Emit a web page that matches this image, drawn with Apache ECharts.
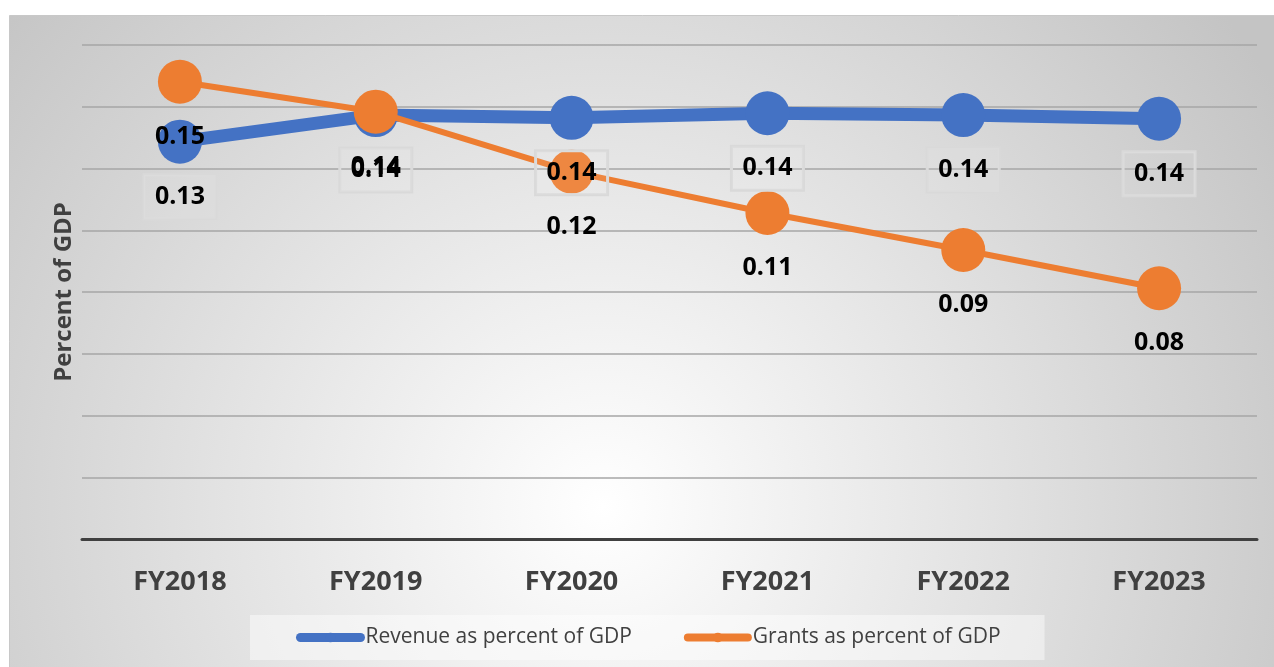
<!DOCTYPE html>
<html>
<head>
<meta charset="utf-8">
<script src="https://cdn.jsdelivr.net/npm/echarts@6/dist/echarts.min.js"></script>
<style>
  html, body { margin: 0; padding: 0; background: #ffffff; }
  #chart { width: 1274px; height: 667px; }
</style>
</head>
<body>
<div id="chart"></div>
<script>
// Fiscal years on the category axis
const categories = ['FY2018', 'FY2019', 'FY2020', 'FY2021', 'FY2022', 'FY2023'];
// Revenue as a share of GDP
const revenue = [0.1287, 0.1373, 0.1364, 0.1379, 0.1373, 0.1361];
// Grants as a share of GDP
const grants = [0.1481, 0.1384, 0.1190, 0.1056, 0.0936, 0.0812];
// Series names shown in the legend
const seriesNames = ['Revenue as percent of GDP', 'Grants as percent of GDP'];
const axisTitle = 'Percent of GDP';

const BLUE = '#4472C4';
const ORANGE = '#ED7D31';
const FONT = '"Open Sans", "Liberation Sans", sans-serif';
const MARKER = 44;

const chart = echarts.init(document.getElementById('chart'), null, { renderer: 'canvas' });

const labelBase = {
  show: true,
  position: 'bottom',
  distance: 11,
  formatter: p => p.value.toFixed(2),
  fontFamily: FONT,
  fontWeight: 'bold',
  fontSize: 25,
  lineHeight: 24,
  color: '#000000',
  opacity: 1,
  padding: [10, 11, 10, 11]
};

// Value labels sit on their own transparent layer so they stay above every line and marker
function labelLayer(name, data, extra, z) {
  return {
    name: name,
    type: 'scatter',
    data: data,
    symbol: 'circle',
    symbolSize: MARKER,
    silent: true,
    itemStyle: { color: 'rgba(0,0,0,0)', opacity: 1 },
    label: Object.assign({}, labelBase, extra),
    z: z
  };
}

chart.setOption({
  animation: false,
  graphic: [{
    type: 'rect',
    z: -10,
    silent: true,
    shape: { x: 9.5, y: 15.5, width: 1270, height: 660 },
    style: {
      fill: new echarts.graphic.RadialGradient(0.467, 0.744, 1.2, [
        { offset: 0, color: '#ffffff' },
        { offset: 1, color: '#c4c4c4' }
      ]),
      stroke: '#c8c8c8',
      lineWidth: 1
    }
  }],
  grid: { left: 82, right: 17, top: 45, bottom: 128, containLabel: false },
  legend: {
    left: 250,
    top: 615,
    padding: [12, 44, 12, 46],
    itemGap: 52,
    itemWidth: 60,
    itemHeight: 12,
    backgroundColor: 'rgba(255,255,255,0.45)',
    textStyle: { color: '#404040', fontSize: 21, fontFamily: FONT },
    data: [
      { name: seriesNames[0], lineStyle: { width: 9, cap: 'round' } },
      { name: seriesNames[1], lineStyle: { width: 8, cap: 'round' } }
    ]
  },
  xAxis: {
    type: 'category',
    data: categories,
    boundaryGap: true,
    axisLine: { show: true, lineStyle: { color: '#404040', width: 3 } },
    axisTick: { show: false },
    axisLabel: {
      margin: 30,
      color: '#404040',
      fontFamily: FONT,
      fontWeight: 'bold',
      fontSize: 27
    }
  },
  yAxis: {
    type: 'value',
    min: 0,
    max: 0.16,
    interval: 0.02,
    name: axisTitle,
    nameLocation: 'middle',
    nameGap: 6,
    nameTextStyle: {
      color: '#404040',
      fontFamily: FONT,
      fontWeight: 'bold',
      fontSize: 24
    },
    axisLine: { show: false },
    axisTick: { show: false },
    axisLabel: { show: false },
    splitLine: { show: true, lineStyle: { color: '#a6a6a6', width: 1.5 } }
  },
  series: [
    {
      name: seriesNames[0],
      type: 'line',
      data: revenue,
      symbol: 'circle',
      symbolSize: MARKER,
      itemStyle: { color: BLUE },
      lineStyle: { color: BLUE, width: 13 },
      z: 2
    },
    {
      name: seriesNames[1],
      type: 'line',
      data: grants,
      symbol: 'circle',
      symbolSize: MARKER,
      itemStyle: { color: ORANGE },
      lineStyle: { color: ORANGE, width: 6 },
      z: 3
    },
    labelLayer(seriesNames[0], revenue, {
      borderColor: '#d9d9d9',
      borderWidth: 1.5,
      backgroundColor: 'rgba(255,255,255,0.08)'
    }, 10),
    labelLayer(seriesNames[1], grants, {}, 11)
  ]
});
</script>
</body>
</html>
